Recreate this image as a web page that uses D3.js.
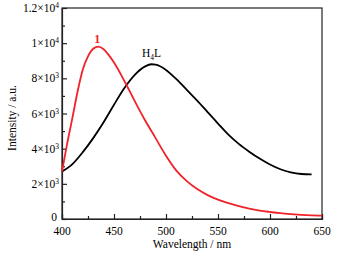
<!DOCTYPE html>
<html>
<head>
<meta charset="utf-8">
<script src="https://cdn.jsdelivr.net/npm/d3@7"></script>
<style>
  body { margin: 0; background: #fff; }
  text { font-family: "Liberation Serif", "DejaVu Serif", serif; }
</style>
</head>
<body>
<script>
// emission spectra
let waveRed = [400,405,410,415,420,425,430,435,440,445,450,460,470,480,490,500,510,520,530,540,550,560,570,580,590,600,610,620,630,640,650];
let intRed  = [2700,4300,5750,7250,8500,9250,9680,9800,9650,9320,8900,7850,6700,5600,4600,3600,2750,2150,1700,1360,1100,900,730,590,480,400,330,280,240,210,190];
let waveBlack = [400,410,420,430,440,450,460,470,480,486,490,500,510,520,530,540,550,560,570,580,590,600,610,620,630,640];
let intBlack  = [2700,3120,3800,4600,5500,6500,7450,8200,8680,8800,8780,8480,7950,7350,6730,6080,5430,4800,4270,3830,3440,3100,2830,2650,2560,2540];
let xTicks = [400,450,500,550,600,650];
let yTicks = [0,2000,4000,6000,8000,10000,12000];
let yLabels = [["0",""],["2×10","3"],["4×10","3"],["6×10","3"],["8×10","3"],["1×10","4"],["1.2×10","4"]];

let W = 341, H = 262;
let pLeft = 62, pRight = 322, pTop = 8, pBottom = 219;

let x = d3.scaleLinear().domain([400,650]).range([pLeft,pRight]);
let y = d3.scaleLinear().domain([0,12000]).range([pBottom,pTop]);

let svg = d3.select("body").append("svg").attr("width",W).attr("height",H);

// frame
svg.append("rect")
      .attr("x",pLeft).attr("y",pTop)
      .attr("width",pRight-pLeft).attr("height",pBottom-pTop)
      .attr("fill","none").attr("stroke","#222").attr("stroke-width","1.2");

// bottom axis, ticks inward
let xAxis = d3.axisBottom(x).tickValues(d3.range(400,651,25)).tickSize(-4).tickFormat("");
let gx = svg.append("g").attr("transform",`translate(0,${pBottom})`).call(xAxis);
gx.select(".domain").attr("stroke","#222").attr("stroke-width","1.2");
gx.selectAll(".tick line").attr("stroke","#222").attr("stroke-width","1.2")
      .attr("y2",(d)=> d%50==0 ? -5 : -3);

svg.selectAll("text.xl")
      .data(xTicks)
      .enter().append("text")
                .attr("class","xl")
                .attr("x",(d)=>x(d))
                .attr("y",234.5)
                .attr("font-size","11.5")
                .attr("text-anchor","middle")
                .text((d)=>d);

// left axis
let yAxis = d3.axisLeft(y).tickValues(d3.range(0,12001,1000)).tickSize(-4).tickFormat("");
let gy = svg.append("g").attr("transform",`translate(${pLeft},0)`).call(yAxis);
gy.select(".domain").attr("stroke","#222").attr("stroke-width","1.2");
gy.selectAll(".tick line").attr("stroke","#222").attr("stroke-width","1.2")
      .attr("x2",(d)=> d%2000==0 ? 5 : 3);

let yl = svg.selectAll("text.yl")
      .data(yTicks)
      .enter().append("text")
                .attr("class","yl")
                .attr("x",(d)=> d==0 ? 57 : 59)
                .attr("y",(d)=> d==0 ? y(d)+2 : y(d)+4)
                .attr("font-size","11.5")
                .attr("text-anchor","end");
yl.append("tspan").text((d,i)=>yLabels[i][0]);
yl.append("tspan").attr("dy","-4").attr("font-size","7.5").text((d,i)=>yLabels[i][1]);

// titles
svg.append("text")
      .attr("x",192)
      .attr("y",247.5)
      .attr("font-size","11.5")
      .attr("text-anchor","middle")
      .text("Wavelength / nm");

svg.append("text")
      .attr("transform","translate(16,118) rotate(-90)")
      .attr("font-size","11.5")
      .attr("text-anchor","middle")
      .text("Intensity / a.u.");

// curves
let line = d3.line().x((d)=>x(d[0])).y((d)=>y(d[1])).curve(d3.curveMonotoneX);

svg.append("path")
      .datum(waveBlack.map((w,i)=>[w,intBlack[i]]))
      .attr("d",line)
      .attr("fill","none").attr("stroke","#000").attr("stroke-width","1.8");

svg.append("path")
      .datum(waveRed.map((w,i)=>[w,intRed[i]]))
      .attr("d",line)
      .attr("fill","none").attr("stroke","#f0222a").attr("stroke-width","1.8");

// labels
svg.append("text")
      .attr("x",x(434)).attr("y",y(9800)-4)
      .attr("font-size","12").attr("font-weight","bold")
      .attr("fill","#f0222a").attr("text-anchor","middle")
      .text("1");

let h4l = svg.append("text")
      .attr("x",x(486)).attr("y",y(8800)-7)
      .attr("font-size","11.5")
      .attr("text-anchor","middle");
h4l.append("tspan").text("H");
h4l.append("tspan").attr("dy","3").attr("font-size","7.5").text("4");
h4l.append("tspan").attr("dy","-3").text("L");
</script>
</body>
</html>
